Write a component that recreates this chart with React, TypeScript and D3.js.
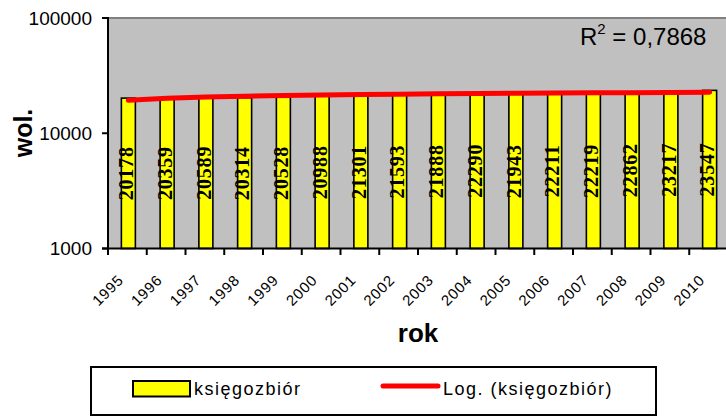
import React from 'react';
import * as d3 from 'd3';

const years = ['1995', '1996', '1997', '1998', '1999', '2000', '2001', '2002', '2003', '2004', '2005', '2006', '2007', '2008', '2009', '2010'];
const values = [20178, 20359, 20589, 20314, 20528, 20988, 21301, 21593, 21888, 22290, 21943, 22211, 22219, 22862, 23217, 23547];
const yTicks = [1000, 10000, 100000];
const legendLabels = ['księgozbiór', 'Log. (księgozbiór)'];
const r2Text = ['R', '2', ' = 0,7868'];
const yTitle = 'wol.';
const xTitle = 'rok';

const SANS = '"Liberation Sans", Arial, sans-serif';
const SERIF = '"Liberation Serif", "Times New Roman", serif';

// logarithmic trend fit: y = a*ln(x) + b
function logFit(vals: number[]) {
  const xs = vals.map((_, i) => Math.log(i + 1));
  const mx = d3.mean(xs) as number;
  const my = d3.mean(vals) as number;
  let sxy = 0, sxx = 0;
  xs.forEach((x, i) => { sxy += (x - mx) * (vals[i] - my); sxx += (x - mx) * (x - mx); });
  const a = sxy / sxx;
  const b = my - a * mx;
  return xs.map(x => a * x + b);
}

export default function App() {
  const W = 726, H = 417;
  const left = 108, top = 18, bottom = 248.5;
  const bandW = 38.75;
  const right = left + years.length * bandW;

  const x = d3.scaleBand<string>().domain(years).range([left, right]).padding(0);
  const y = d3.scaleLog().domain([1000, 100000]).range([bottom, top]);
  const bw = 14;
  const cx = (yr: string) => (x(yr) as number) + x.bandwidth() / 2 + 1;

  const trend = logFit(values);
  const trendLine = d3.line<number>()
    .x((_, i) => cx(years[i]))
    .y(d => y(d));

  const tickPositions = d3.range(years.length + 1).map(i => left + i * x.bandwidth());

  return (
    <svg width={W} height={H} style={{ position: 'absolute', left: 0, top: 0, background: '#fff' }}>
      {/* plot area */}
      <rect x={left} y={top} width={right - left} height={bottom - top} fill="#C0C0C0" />
      <line x1={left} x2={W} y1={top} y2={top} stroke="#808080" strokeWidth={2} />

      {/* bars */}
      {values.map((v, i) => (
        <rect key={years[i]} x={cx(years[i]) - bw / 2} y={y(v)} width={bw} height={bottom - y(v)}
          fill="#FFFF00" stroke="#000" strokeWidth={1.6} />
      ))}

      {/* data labels */}
      {values.map((v, i) => {
        const mid = (y(v) + bottom) / 2;
        return (
          <text key={'l' + i} transform={`translate(${cx(years[i]) + 4.7},${mid}) rotate(-90)`}
            textAnchor="middle" fontFamily={SERIF} fontWeight="bold" fontSize={20} letterSpacing={0.8} fill="#000">
            {v}
          </text>
        );
      })}

      {/* trend line */}
      <path d={trendLine(trend) as string} fill="none" stroke="#FF0000" strokeWidth={5} strokeLinecap="round" />

      {/* axes */}
      <line x1={left} x2={left} y1={top - 1} y2={bottom + 1} stroke="#000" strokeWidth={2} />
      <line x1={left - 6} x2={W} y1={bottom} y2={bottom} stroke="#000" strokeWidth={2} />
      {yTicks.map(t => (
        <g key={t}>
          <line x1={left - 6} x2={left} y1={y(t)} y2={y(t)} stroke="#000" strokeWidth={2} />
          <text x={92} y={y(t)} dy="0.35em" textAnchor="end" fontFamily={SANS} fontSize={19} fill="#000">{t}</text>
        </g>
      ))}
      {tickPositions.map((p, i) => (
        <line key={'t' + i} x1={p} x2={p} y1={bottom} y2={bottom + 6.5} stroke="#000" strokeWidth={2} />
      ))}
      {years.map(yr => (
        <text key={'x' + yr} transform={`translate(${(x(yr) as number) + x.bandwidth() / 2 - 3},281) rotate(-45)`}
          textAnchor="end" fontFamily={SANS} fontSize={15} letterSpacing={0.8} fill="#000">{yr}</text>
      ))}

      {/* axis titles */}
      <text transform="translate(32,133) rotate(-90)" textAnchor="middle" fontFamily={SANS} fontWeight="bold" fontSize={25} fill="#000">{yTitle}</text>
      <text x={418} y={342} textAnchor="middle" fontFamily={SANS} fontWeight="bold" fontSize={26} fill="#000">{xTitle}</text>

      {/* R^2 */}
      <text x={580} y={45} fontFamily={SANS} fontSize={24} fill="#000">
        {r2Text[0]}
        <tspan dy={-11} fontSize={15}>{r2Text[1]}</tspan>
        <tspan dy={11}>{r2Text[2]}</tspan>
      </text>

      {/* legend */}
      <rect x={91} y={367} width={565} height={48} fill="#fff" stroke="#000" strokeWidth={2} />
      <rect x={133} y={381} width={57} height={15.5} fill="#FFFF00" stroke="#000" strokeWidth={2} />
      <text x={194} y={395} fontFamily={SANS} fontSize={18} letterSpacing={1.5} fill="#000">{legendLabels[0]}</text>
      <line x1={383} x2={438} y1={386} y2={386} stroke="#FF0000" strokeWidth={5} strokeLinecap="round" />
      <text x={443} y={395} fontFamily={SANS} fontSize={18} letterSpacing={1.5} fill="#000">{legendLabels[1]}</text>
    </svg>
  );
}
